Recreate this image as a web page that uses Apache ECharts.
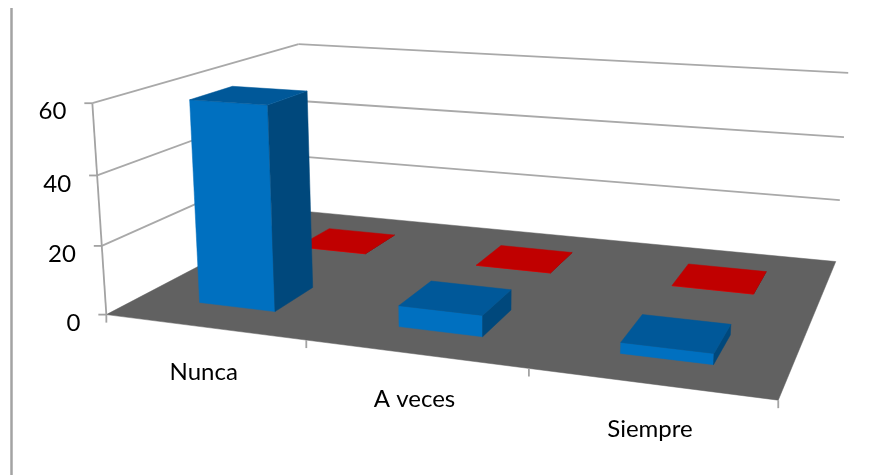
<!DOCTYPE html>
<html>
<head>
<meta charset="utf-8">
<style>html,body{margin:0;padding:0;background:#fff}#chart{width:876px;height:475px}</style>
<script src="https://cdn.jsdelivr.net/npm/echarts@6/dist/echarts.min.js"></script>
</head>
<body>
<div id="chart"></div>
<script>
// Survey answers per category, shown as two rows of 3D columns
const categories = ['Nunca', 'A veces', 'Siempre'];
const frontRow = [59, 6, 3];
const backRow = [0, 0, 0];
const valueTicks = [0, 20, 40, 60];

const valueMax = 60;
const barSpan = [0.305, 0.695];
const frontDepth = [0.15, 0.345];
const backDepth = [0.655, 0.85];

// Perspective camera: [category position, depth, value] against plane position
const anchors = [
  [0, 0, 0, 107, 314], [1, 0, 0, 306, 341], [2, 0, 0, 529, 368], [3, 0, 0, 778, 401],
  [3, 1, 0, 836, 260], [0, 1, 0, 303, 212],
  [0, 0, 20, 102, 246], [0, 0, 40, 97, 175], [0, 0, 60, 92, 103],
  [0, 1, 60, 299, 44], [3, 1, 60, 848, 73], [3, 1, 40, 844, 138], [3, 1, 20, 840, 200]
];

function fitCamera(points) {
  const n = 11;
  const A = Array.from({ length: n }, () => new Array(n + 1).fill(0));
  const add = (row, rhs) => {
    for (let i = 0; i < n; i++) {
      for (let j = 0; j < n; j++) A[i][j] += row[i] * row[j];
      A[i][n] += row[i] * rhs;
    }
  };
  points.forEach(([u, d, h, x, y]) => {
    add([u, d, h, 1, 0, 0, 0, 0, -x * u, -x * d, -x * h], x);
    add([0, 0, 0, 0, u, d, h, 1, -y * u, -y * d, -y * h], y);
  });
  for (let c = 0; c < n; c++) {
    let best = c;
    for (let r = c + 1; r < n; r++) if (Math.abs(A[r][c]) > Math.abs(A[best][c])) best = r;
    [A[c], A[best]] = [A[best], A[c]];
    for (let r = 0; r < n; r++) {
      if (r === c) continue;
      const f = A[r][c] / A[c][c];
      for (let k = c; k <= n; k++) A[r][k] -= f * A[c][k];
    }
  }
  return A.map((row, i) => row[n] / row[i]);
}
const cam = fitCamera(anchors);
function project(u, d, h) {
  const w = cam[8] * u + cam[9] * d + cam[10] * h + 1;
  return [
    (cam[0] * u + cam[1] * d + cam[2] * h + cam[3]) / w,
    (cam[4] * u + cam[5] * d + cam[6] * h + cam[7]) / w
  ];
}

const face = (api, pts, fill) => ({
  type: 'polygon',
  shape: { points: pts.map(p => api.coord(project(p[0], p[1], p[2]))) },
  style: { fill, stroke: fill, lineWidth: 0.5 }
});
const edge = (api, a, b, stroke, lineWidth) => {
  const p = api.coord(project(a[0], a[1], a[2]));
  const q = api.coord(project(b[0], b[1], b[2]));
  return { type: 'line', shape: { x1: p[0], y1: p[1], x2: q[0], y2: q[1] }, style: { stroke, lineWidth } };
};
const label = (api, at, dx, dy, text, align) => {
  const p = api.coord(project(at[0], at[1], at[2]));
  return {
    type: 'text',
    style: {
      x: p[0] + dx, y: p[1] + dy, text, align, verticalAlign: 'middle',
      fill: '#000', font: '24px Lato, "Open Sans", sans-serif'
    }
  };
};

// One column: front, right side and lid, from its category index and value
function columnItem(depth, colors) {
  return (params, api) => {
    const i = api.value(0), v = api.value(1);
    const u0 = i + barSpan[0], u1 = i + barSpan[1], d0 = depth[0], d1 = depth[1];
    return {
      type: 'group',
      children: [
        face(api, [[u0, d0, 0], [u1, d0, 0], [u1, d0, v], [u0, d0, v]], colors[0]),
        face(api, [[u1, d0, 0], [u1, d1, 0], [u1, d1, v], [u1, d0, v]], colors[1]),
        face(api, [[u0, d0, v], [u1, d0, v], [u1, d1, v], [u0, d1, v]], colors[2])
      ]
    };
  };
}

const gridColor = '#a9a9a9';
const axisColor = '#a3a3a3';

const option = {
  animation: false,
  backgroundColor: '#fff',
  grid: { left: 0, right: 0, top: 0, bottom: 0 },
  xAxis: { type: 'value', min: 0, max: 876, show: false },
  yAxis: { type: 'value', min: 0, max: 475, inverse: true, show: false },
  graphic: [{
    type: 'line', silent: true,
    shape: { x1: 11.5, y1: 8, x2: 11.5, y2: 475 },
    style: { stroke: '#a3a3a3', lineWidth: 2.5 }
  }],
  series: [
    {
      // Floor, walls and gridlines of the plot box
      type: 'custom', coordinateSystem: 'cartesian2d', silent: true, z: 1,
      data: [0],
      renderItem: (params, api) => ({
        type: 'group',
        children: [
          face(api, [[0, 0, 0], [3, 0, 0], [3, 1, 0], [0, 1, 0]], '#616161'),
          ...valueTicks.filter(t => t > 0).flatMap(t => [
            edge(api, [0, 0, t], [0, 1, t], gridColor, 1.8),
            edge(api, [0, 1, t], [3, 1, t], gridColor, 1.8)
          ]),
          edge(api, [0, 0, 0], [0, 0, valueMax], axisColor, 1.8)
        ]
      })
    },
    {
      // Value axis ticks and labels along the front-left edge
      type: 'custom', coordinateSystem: 'cartesian2d', silent: true, z: 2,
      data: valueTicks.map(t => [t]),
      renderItem: (params, api) => {
        const t = api.value(0);
        const p = api.coord(project(0, 0, t));
        return {
          type: 'group',
          children: [
            { type: 'line', shape: { x1: p[0] - 8, y1: p[1], x2: p[0], y2: p[1] }, style: { stroke: axisColor, lineWidth: 1.8 } },
            label(api, [0, 0, t], -26, 8.5, String(t), 'right')
          ]
        };
      }
    },
    {
      // Category ticks and labels below the front edge
      type: 'custom', coordinateSystem: 'cartesian2d', silent: true, z: 2,
      data: categories.map((c, i) => [i]),
      renderItem: (params, api) => {
        const i = api.value(0);
        const p = api.coord(project(i + 1, 0, 0));
        const children = [
          { type: 'line', shape: { x1: p[0], y1: p[1], x2: p[0], y2: p[1] + 8 }, style: { stroke: axisColor, lineWidth: 1.8 } },
          label(api, [i + 0.5, 0, 0], 0, 45, categories[i], 'center')
        ];
        if (i === 0) {
          const o = api.coord(project(0, 0, 0));
          children.push({ type: 'line', shape: { x1: o[0], y1: o[1], x2: o[0], y2: o[1] + 8 }, style: { stroke: axisColor, lineWidth: 1.8 } });
        }
        return { type: 'group', children };
      }
    },
    {
      name: 'Fila posterior', type: 'custom', coordinateSystem: 'cartesian2d', silent: true, z: 3,
      data: backRow.map((v, i) => [i, v]),
      renderItem: columnItem(backDepth, ['#ff0000', '#800000', '#c00000'])
    },
    {
      name: 'Fila frontal', type: 'custom', coordinateSystem: 'cartesian2d', silent: true, z: 4,
      data: frontRow.map((v, i) => [i, v]),
      renderItem: columnItem(frontDepth, ['#0070c0', '#00487c', '#005899'])
    }
  ]
};

echarts.init(document.getElementById('chart'), null, { renderer: 'canvas' }).setOption(option);
</script>
</body>
</html>
